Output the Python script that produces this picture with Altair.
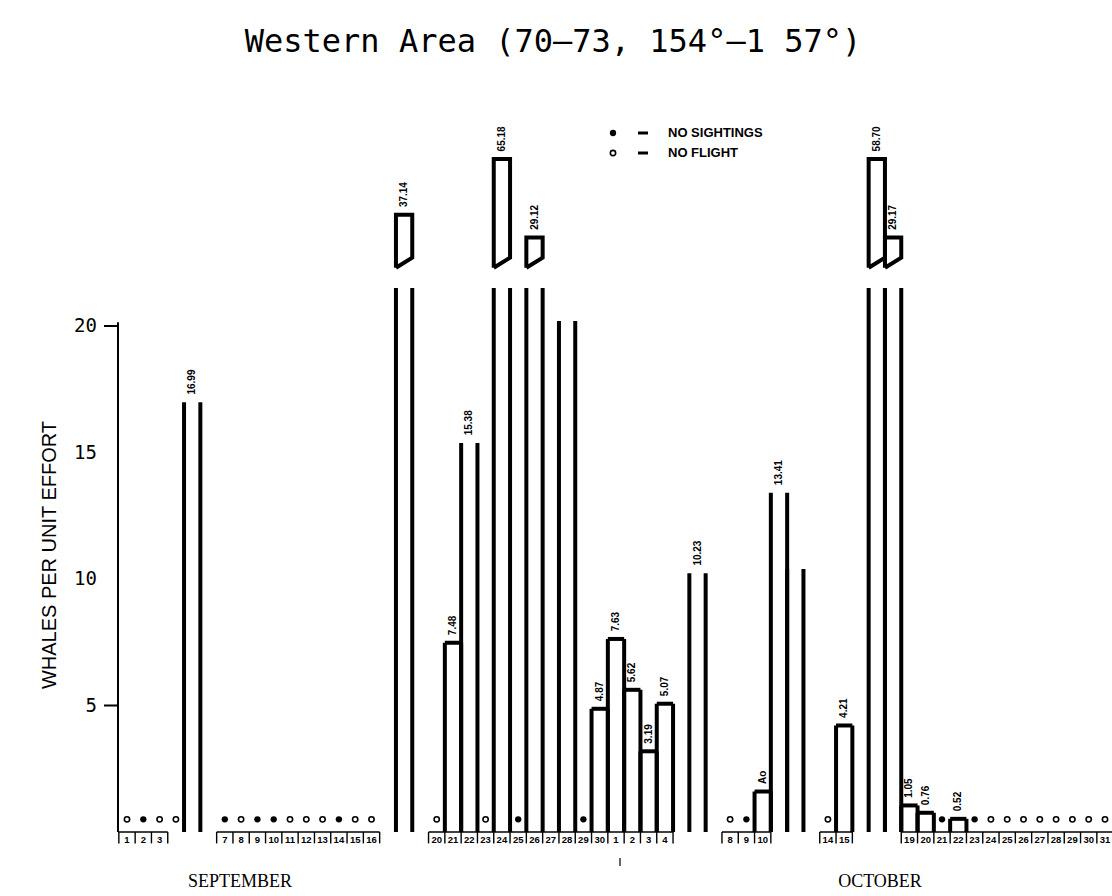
import altair as alt
import pandas as pd

# ---------------- data ----------------
title_text = "Western Area (70–73, 154°–1 57°)"
y_title = "WHALES PER UNIT EFFORT"

sep_bar_days = [5, 18, 21, 22, 24, 26, 28, 30]
sep_bar_values = [16.99, 37.14, 7.48, 15.38, 65.18, 29.12, 20.2, 4.87]
sep_bar_labels = ["16.99", "37.14", "7.48", "15.38", "65.18", "29.12", "", "4.87"]

oct_bar_days = [1, 2, 3, 4, 6, 10, 11, 12, 15, 17, 18, 19, 20, 22]
oct_bar_values = [7.63, 5.62, 3.19, 5.07, 10.23, 1.6, 13.41, 10.4, 4.21, 58.70, 29.17, 1.05, 0.76, 0.52]
oct_bar_labels = ["7.63", "5.62", "3.19", "5.07", "10.23", "Ao", "13.41", "", "4.21",
                  "58.70", "29.17", "1.05", "0.76", "0.52"]

# values above the axis break: drawn top of the detached box, in axis units
broken_values = [37.14, 65.18, 29.12, 58.70, 29.17]
broken_box_tops = [24.4, 26.6, 23.5, 26.6, 23.5]

sep_no_sightings = [2, 7, 9, 10, 14, 25, 29]
sep_no_flight = [1, 3, 4, 8, 11, 12, 13, 15, 16, 20, 23]
oct_no_sightings = [9, 21, 23]
oct_no_flight = [8, 14, 24, 25, 26, 27, 28, 29, 30, 31]

sep_axis_days = [1, 2, 3] + list(range(7, 17)) + list(range(20, 31))
oct_axis_days = [1, 2, 3, 4, 8, 9, 10, 14, 15] + list(range(19, 32))

y_ticks = [5, 10, 15, 20]
y_tick_marks = [5, 20]
months = ["SEPTEMBER", "OCTOBER"]
legend_items = ["NO SIGHTINGS", "NO FLIGHT"]

# ---------------- layout constants ----------------
W, H = 1112, 896
X0, DX = 127.0, 16.3        # pixel of day index 1, pixels per day
Y0, DY = 832.0, 25.3        # pixel of value 0, pixels per unit
BREAK = 21.5
xdom = [1 - X0 / DX, 1 + (W - X0) / DX]
ydom = [(Y0 - H) / DY, Y0 / DY]
xs = alt.Scale(domain=xdom, nice=False, zero=False)
ys = alt.Scale(domain=ydom, nice=False, zero=False)

def X(f="x"):
    return alt.X(f"{f}:Q", scale=xs, axis=None)

def Y(f="y"):
    return alt.Y(f"{f}:Q", scale=ys, axis=None)

# ---------------- build tables ----------------
bars = pd.DataFrame({
    "idx": sep_bar_days + [30 + d for d in oct_bar_days],
    "value": sep_bar_values + oct_bar_values,
    "label": sep_bar_labels + oct_bar_labels,
})
bars["shown"] = bars["value"].clip(upper=BREAK)
bars["left"] = bars["idx"] - 0.5
bars["right"] = bars["idx"] + 0.5
box_top_map = dict(zip(broken_values, broken_box_tops))
bars["label_y"] = [box_top_map.get(v, v) + 0.3 for v in bars["value"]]

sides = pd.concat([
    pd.DataFrame({"x": bars["left"], "y": 0.0, "y2": bars["shown"]}),
    pd.DataFrame({"x": bars["right"], "y": 0.0, "y2": bars["shown"]}),
])
tops = bars[bars["value"] < 8]

box_rows = []
for v, t in zip(broken_values, broken_box_tops):
    i = int(bars.loc[bars["value"] == v, "idx"].iloc[0])
    pts = [(i - 0.5, 22.3), (i - 0.5, t), (i + 0.5, t), (i + 0.5, 22.7), (i - 0.5, 22.3)]
    for k, (px, py) in enumerate(pts):
        box_rows.append({"box": i, "k": k, "x": px, "y": py})
boxes = pd.DataFrame(box_rows)

ns = pd.DataFrame({"x": sep_no_sightings + [30 + d for d in oct_no_sightings], "y": 0.5})
nf = pd.DataFrame({"x": sep_no_flight + [30 + d for d in oct_no_flight], "y": 0.5})

axis_idx = sep_axis_days + [30 + d for d in oct_axis_days]
axis_lab = [str(d) for d in sep_axis_days] + [str(d) for d in oct_axis_days]
day_df = pd.DataFrame({"x": axis_idx, "label": axis_lab, "yy": -0.12})

runs = []
start = prev = axis_idx[0]
for d in axis_idx[1:]:
    if d != prev + 1:
        runs.append((start, prev))
        start = d
    prev = d
runs.append((start, prev))
run_df = pd.DataFrame({"x": [a - 0.5 for a, b in runs], "x2": [b + 0.5 for a, b in runs], "y": 0.0})
bounds = sorted(set([d - 0.5 for d in axis_idx] + [d + 0.5 for d in axis_idx]))
tick_df = pd.DataFrame({"x": bounds, "y": 0.0, "y2": -0.45})

ytick_df = pd.DataFrame({"y": y_ticks, "label": [str(t) for t in y_ticks]})
ymark_df = pd.DataFrame({"y": y_tick_marks})

# ---------------- layers ----------------
black = "#000000"

side_layer = alt.Chart(sides).mark_rule(color=black, strokeWidth=4).encode(
    x=X(), y=Y(), y2="y2:Q")
top_layer = alt.Chart(tops).mark_rule(color=black, strokeWidth=4).encode(
    x=X("left"), x2="right:Q", y=Y("value"))
box_layer = alt.Chart(boxes).mark_line(color=black, strokeWidth=4, strokeJoin="miter").encode(
    x=X(), y=Y(), detail="box:N", order="k:Q")
label_layer = alt.Chart(bars).mark_text(
    angle=270, align="left", baseline="middle", fontSize=10, fontWeight="bold",
    font="Liberation Sans", color=black).encode(
    x=X("idx"), y=Y("label_y"), text="label:N")

ns_layer = alt.Chart(ns).mark_point(shape="circle", filled=True, size=40, color=black, opacity=1).encode(
    x=X(), y=Y())
nf_layer = alt.Chart(nf).mark_point(shape="circle", filled=False, size=28, color=black,
                                    strokeWidth=1.6, opacity=1).encode(x=X(), y=Y())

ruler_layer = alt.Chart(run_df).mark_rule(color=black, strokeWidth=1.6).encode(
    x=X(), x2="x2:Q", y=Y())
rtick_layer = alt.Chart(tick_df).mark_rule(color=black, strokeWidth=1.4).encode(
    x=X(), y=Y(), y2="y2:Q")
day_layer = alt.Chart(day_df).mark_text(
    fontSize=9.5, fontWeight="bold", font="Liberation Sans", baseline="top", color=black).encode(
    x=X(), y=Y("yy"), text="label:N")

yaxis_layer = alt.Chart(pd.DataFrame({"y": [0.0], "y2": [20.15]})).mark_rule(
    color=black, strokeWidth=2).encode(x=alt.value(118), y=Y(), y2="y2:Q")
ytick_layer = alt.Chart(ymark_df).mark_rule(color=black, strokeWidth=2).encode(
    x=alt.value(104), x2=alt.value(118), y=Y())
ylab_layer = alt.Chart(ytick_df).mark_text(
    align="right", baseline="middle", fontSize=19, font="DejaVu Sans Mono", color=black).encode(
    x=alt.value(97), y=Y(), text="label:N")

one = pd.DataFrame({"t": [0]})
title_layer = alt.Chart(one).mark_text(
    text=title_text, fontSize=32, font="DejaVu Sans Mono", color=black,
    align="center", baseline="middle").encode(x=alt.value(553), y=alt.value(42))
ytitle_layer = alt.Chart(one).mark_text(
    text=y_title, fontSize=20, font="Liberation Sans", color=black, angle=270,
    align="center", baseline="middle").encode(x=alt.value(50), y=alt.value(555))

month_df = pd.DataFrame({"label": months, "px": [240, 880]})
month_layer = alt.Chart(month_df).mark_text(
    fontSize=18, font="Liberation Serif", color=black, baseline="middle").encode(
    x=alt.X("px:Q", scale=None, axis=None), y=alt.value(882), text="label:N")
month_mark = alt.Chart(one).mark_rule(color=black, strokeWidth=1.2).encode(
    x=alt.value(620), y=alt.value(858), y2=alt.value(866))

leg_df = pd.DataFrame({"label": legend_items, "py": [133, 153], "filled": [True, False]})
leg_text = alt.Chart(leg_df).mark_text(
    align="left", baseline="middle", fontSize=13, fontWeight="bold", font="Liberation Sans",
    color=black).encode(x=alt.value(668), y=alt.Y("py:Q", scale=None, axis=None), text="label:N")
leg_dash = alt.Chart(leg_df).mark_rule(color=black, strokeWidth=3).encode(
    x=alt.value(638), x2=alt.value(648), y=alt.Y("py:Q", scale=None, axis=None))
leg_dot = alt.Chart(leg_df[leg_df["filled"]]).mark_point(
    shape="circle", filled=True, size=40, color=black, opacity=1).encode(
    x=alt.value(613), y=alt.Y("py:Q", scale=None, axis=None))
leg_ring = alt.Chart(leg_df[~leg_df["filled"]]).mark_point(
    shape="circle", filled=False, size=28, strokeWidth=1.6, color=black, opacity=1).encode(
    x=alt.value(613), y=alt.Y("py:Q", scale=None, axis=None))

chart = alt.layer(
    side_layer, top_layer, box_layer, label_layer, ns_layer, nf_layer,
    ruler_layer, rtick_layer, day_layer, yaxis_layer, ytick_layer, ylab_layer,
    title_layer, ytitle_layer, month_layer, month_mark,
    leg_text, leg_dash, leg_dot, leg_ring,
).properties(
    width=W, height=H, autosize="none", padding=0, background="white"
).configure_view(stroke=None)

chart.save("out.html", embed_options={"renderer": "svg", "actions": False})
